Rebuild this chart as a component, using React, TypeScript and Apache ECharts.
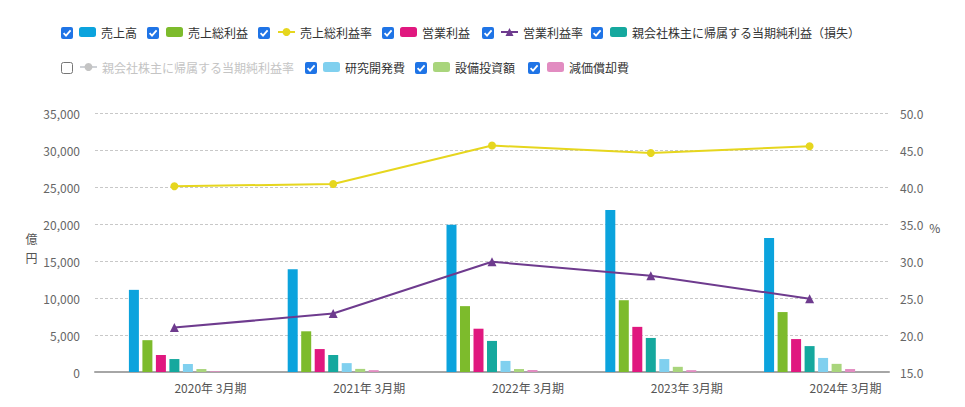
import React, { useEffect, useRef } from "react";
import * as echarts from "echarts";

const categories = ["2020年 3月期", "2021年 3月期", "2022年 3月期", "2023年 3月期", "2024年 3月期"];
const sales = [11100, 13900, 19900, 21900, 18100];
const grossProfit = [4300, 5500, 8900, 9700, 8100];
const grossMargin = [40.1, 40.4, 45.6, 44.6, 45.5];
const operatingProfit = [2300, 3100, 5850, 6100, 4450];
const operatingMargin = [21.0, 22.9, 29.9, 28.0, 24.9];
const netIncome = [1750, 2300, 4200, 4600, 3500];
const netMargin: number[] = [];
const rnd = [1080, 1200, 1500, 1750, 1900];
const capex = [400, 420, 400, 700, 1100];
const depreciation = [100, 250, 270, 250, 400];

const leftAxis = { min: 0, max: 35000, interval: 5000, name: "億\n円" };
const rightAxis = { min: 15, max: 50, interval: 5, name: "%" };

const N = {
  sales: "売上高",
  gp: "売上総利益",
  gm: "売上総利益率",
  op: "営業利益",
  om: "営業利益率",
  ni: "親会社株主に帰属する当期純利益（損失）",
  nm: "親会社株主に帰属する当期純利益率",
  rnd: "研究開発費",
  capex: "設備投資額",
  dep: "減価償却費",
};

const C = {
  sales: "#0ba3dd",
  gp: "#7dbb2c",
  gm: "#e6d61e",
  op: "#e0187f",
  om: "#6e3b8e",
  ni: "#15a89e",
  nm: "#bbbbbb",
  rnd: "#80d0ef",
  capex: "#a9d57c",
  dep: "#e28cc1",
};

const FONT = "'Noto Sans CJK JP', 'Noto Sans', sans-serif";

export default function App() {
  const ref = useRef<HTMLDivElement>(null);
  useEffect(() => {
    if (!ref.current) return;
    const chart = echarts.init(ref.current, undefined, { renderer: "svg" });

    // legend layout: [name, checkboxX, iconX, rowCenterY, checked]
    const legendItems: [string, number, number, number, boolean][] = [
      [N.sales, 61, 79, 33, true],
      [N.gp, 147, 166, 33, true],
      [N.gm, 258, 277, 33, true],
      [N.op, 382, 400, 33, true],
      [N.om, 482, 500, 33, true],
      [N.ni, 591, 610, 33, true],
      [N.nm, 61, 79, 68, false],
      [N.rnd, 305, 323, 68, true],
      [N.capex, 415, 433, 68, true],
      [N.dep, 528, 547, 68, true],
    ];

    const legends = legendItems.map(([name, , ix, cy, checked]) => ({
      data: [name],
      left: ix,
      top: cy - 7,
      itemWidth: 17,
      itemHeight: 10,
      itemGap: 0,
      padding: 0,
      selectedMode: true,
      inactiveColor: "#c4c4c4",
      selected: { [name]: checked },
      textStyle: { fontSize: 12, color: "#333", fontFamily: FONT },
    }));

    const graphics: any[] = [];
    legendItems.forEach(([, cx, , cy, checked]) => {
      const x = cx, y = cy - 6;
      if (checked) {
        graphics.push({
          type: "rect",
          shape: { x, y, width: 12, height: 12, r: 2 },
          style: { fill: "#1f74e6" },
        });
        graphics.push({
          type: "polyline",
          shape: { points: [[x + 2.6, y + 6.2], [x + 5, y + 8.6], [x + 9.6, y + 3.4]] },
          style: { stroke: "#fff", lineWidth: 1.8, fill: null },
        });
      } else {
        graphics.push({
          type: "rect",
          shape: { x: x + 0.5, y: y + 0.5, width: 11, height: 11, r: 2 },
          style: { fill: "#fff", stroke: "#767676", lineWidth: 1 },
        });
      }
    });

    const bar = (name: string, data: number[], color: string) => ({
      name,
      type: "bar",
      data,
      barWidth: 10,
      barGap: "35%",
      itemStyle: { color },
      yAxisIndex: 0,
    });

    const line = (name: string, data: number[], color: string, symbol: string, size: number) => ({
      name,
      type: "line",
      data,
      yAxisIndex: 1,
      symbol,
      symbolSize: size,
      z: 5,
      lineStyle: { color, width: 2 },
      itemStyle: { color },
    });

    chart.setOption({
      animation: false,
      textStyle: { fontFamily: FONT },
      legend: legends,
      graphic: graphics,
      grid: { left: 95, right: 76, top: 113, bottom: 35, containLabel: false },
      xAxis: {
        type: "category",
        data: categories,
        axisTick: { show: false },
        axisLine: { lineStyle: { color: "#a6a6a6", width: 2 } },
        axisLabel: { align: "left", color: "#555", fontSize: 12, margin: 9, fontFamily: FONT },
      },
      yAxis: [
        {
          type: "value",
          min: leftAxis.min,
          max: leftAxis.max,
          interval: leftAxis.interval,
          name: "{s| }\n" + leftAxis.name,
          nameLocation: "middle",
          nameRotate: 0,
          nameGap: 55,
          nameTextStyle: {
            color: "#555",
            fontSize: 12,
            lineHeight: 19,
            fontFamily: FONT,
            rich: { s: { lineHeight: 11, fontSize: 6 } },
          },
          axisLine: { show: false },
          axisTick: { show: false },
          axisLabel: {
            color: "#666",
            fontSize: 12,
            margin: 15,
            fontFamily: FONT,
            formatter: (v: number) => v.toLocaleString("en-US"),
          },
          splitLine: { lineStyle: { color: "#c8c8c8", type: [3, 2] } },
        },
        {
          type: "value",
          min: rightAxis.min,
          max: rightAxis.max,
          interval: rightAxis.interval,
          name: rightAxis.name + "\n{s| }",
          nameLocation: "middle",
          nameRotate: 0,
          nameGap: 36,
          nameTextStyle: {
            color: "#555",
            fontSize: 12,
            lineHeight: 16,
            fontFamily: FONT,
            rich: { s: { lineHeight: 30, fontSize: 6 } },
          },
          axisLine: { show: false },
          axisTick: { show: false },
          axisLabel: {
            color: "#666",
            fontSize: 12,
            margin: 11,
            fontFamily: FONT,
            formatter: (v: number) => v.toFixed(1),
          },
          splitLine: { show: false },
        },
      ],
      series: [
        bar(N.sales, sales, C.sales),
        bar(N.gp, grossProfit, C.gp),
        line(N.gm, grossMargin, C.gm, "circle", 8),
        bar(N.op, operatingProfit, C.op),
        line(N.om, operatingMargin, C.om, "triangle", 9),
        bar(N.ni, netIncome, C.ni),
        line(N.nm, netMargin, C.nm, "circle", 7),
        bar(N.rnd, rnd, C.rnd),
        bar(N.capex, capex, C.capex),
        bar(N.dep, depreciation, C.dep),
      ],
    });
    return () => chart.dispose();
  }, []);
  return (
    <div
      ref={ref}
      style={{ position: "absolute", left: 0, top: 0, width: 965, height: 407 }}
    />
  );
}
